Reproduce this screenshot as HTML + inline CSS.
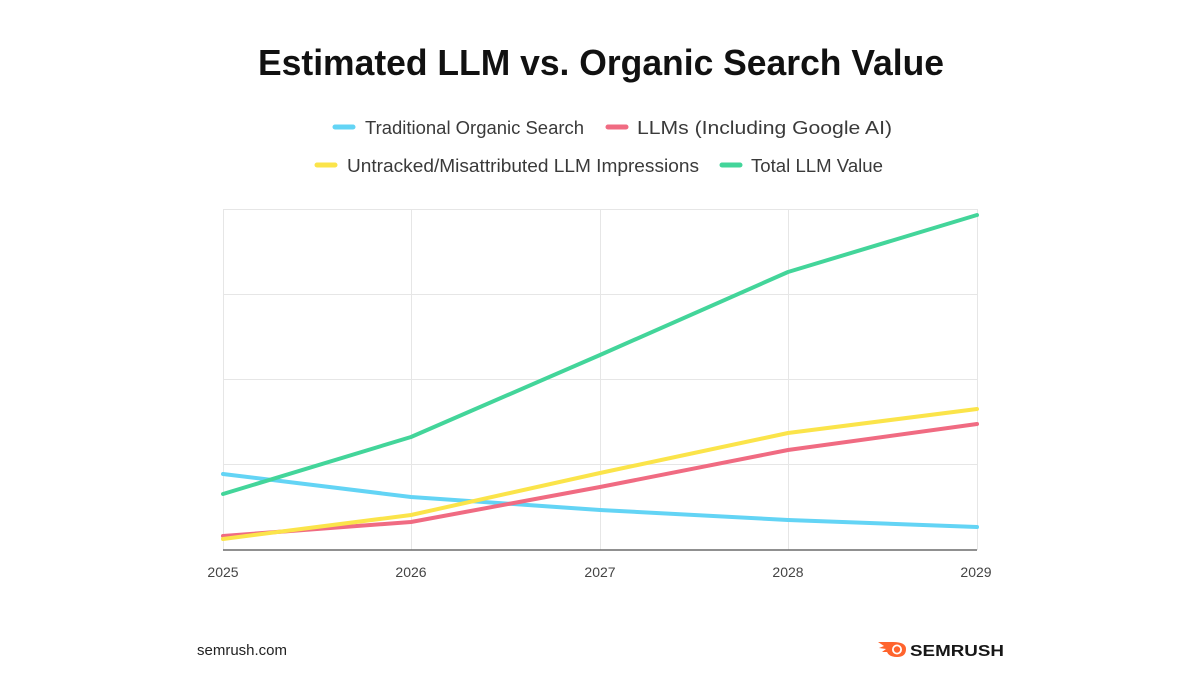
<!DOCTYPE html>
<html><head><meta charset="utf-8"><style>
html,body{margin:0;padding:0;background:#fff;}
svg{display:block;}
text{font-family:"Liberation Sans",sans-serif;}
</style></head><body>
<svg width="1200" height="675" viewBox="0 0 1200 675" xmlns="http://www.w3.org/2000/svg">
<rect width="1200" height="675" fill="#fff"/>
<text x="601" y="75" text-anchor="middle" font-size="36" font-weight="bold" fill="#111" textLength="686" lengthAdjust="spacingAndGlyphs">Estimated LLM vs. Organic Search Value</text>

<g font-size="18" fill="#3a3a3a">
<line x1="335" y1="127" x2="353" y2="127" stroke="#63d4f5" stroke-width="5" stroke-linecap="round"/>
<text x="365" y="134" textLength="219" lengthAdjust="spacingAndGlyphs">Traditional Organic Search</text>
<line x1="608" y1="127" x2="626" y2="127" stroke="#f06b82" stroke-width="5" stroke-linecap="round"/>
<text x="637" y="134" textLength="255" lengthAdjust="spacingAndGlyphs">LLMs (Including Google AI)</text>
<line x1="317" y1="165" x2="335" y2="165" stroke="#fbe44a" stroke-width="5" stroke-linecap="round"/>
<text x="347" y="172" textLength="352" lengthAdjust="spacingAndGlyphs">Untracked/Misattributed LLM Impressions</text>
<line x1="722" y1="165" x2="740" y2="165" stroke="#43d59a" stroke-width="5" stroke-linecap="round"/>
<text x="751" y="172" textLength="132" lengthAdjust="spacingAndGlyphs">Total LLM Value</text>
</g>

<g stroke="#e6e6e6" stroke-width="1">
<line x1="223" y1="209.5" x2="977" y2="209.5"/>
<line x1="223" y1="294.5" x2="977" y2="294.5"/>
<line x1="223" y1="379.5" x2="977" y2="379.5"/>
<line x1="223" y1="464.5" x2="977" y2="464.5"/>
<line x1="223.5" y1="209" x2="223.5" y2="550"/>
<line x1="411.5" y1="209" x2="411.5" y2="550"/>
<line x1="600.5" y1="209" x2="600.5" y2="550"/>
<line x1="788.5" y1="209" x2="788.5" y2="550"/>
<line x1="977.5" y1="209" x2="977.5" y2="550"/>
</g>
<line x1="223" y1="550" x2="977" y2="550" stroke="#6b6b6b" stroke-width="1.5"/>

<g fill="none" stroke-width="4" stroke-linejoin="round" stroke-linecap="round">
<polyline stroke="#63d4f5" points="223,474 411,497 600,510 788,520 977,527"/>
<polyline stroke="#f06b82" points="223,536 411,522 600,487 788,450 977,424"/>
<polyline stroke="#fbe44a" points="223,539 411,515 600,473 788,433 977,409"/>
<polyline stroke="#43d59a" points="223,494 411,437 600,355 788,272 977,215"/>
</g>

<g font-size="14" fill="#444" text-anchor="middle">
<text x="223" y="577">2025</text>
<text x="411" y="577">2026</text>
<text x="600" y="577">2027</text>
<text x="788" y="577">2028</text>
<text x="976" y="577">2029</text>
</g>

<text x="197" y="655" font-size="15" fill="#222" textLength="90" lengthAdjust="spacingAndGlyphs">semrush.com</text>

<g>
<path d="M878,642 L893,642 Q906,642 906,649 Q906,657 897,657 Q889,657 887,652 L882,652 L886,649 L879,648 L884,646 Z" fill="#ff642d"/>
<circle cx="897" cy="649.5" r="5" fill="#fff"/>
<circle cx="897" cy="649.5" r="3.2" fill="#ff642d"/>
<text x="910" y="656" font-size="16" font-weight="bold" fill="#171717" textLength="94" lengthAdjust="spacingAndGlyphs">SEMRUSH</text>
</g>
</svg>
</body></html>
